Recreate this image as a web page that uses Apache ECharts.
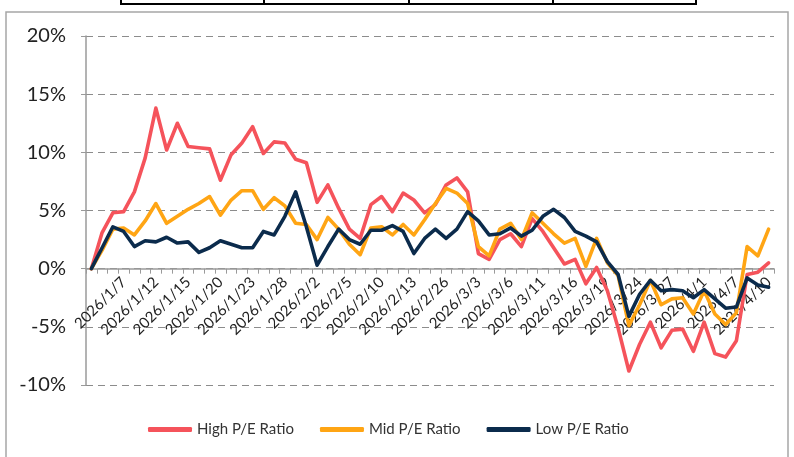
<!DOCTYPE html>
<html>
<head>
<meta charset="utf-8">
<script src="https://cdn.jsdelivr.net/npm/echarts@6/dist/echarts.min.js"></script>
<style>
  html, body { margin: 0; padding: 0; background: #fff; }
  #chart { width: 794px; height: 457px; }
</style>
</head>
<body>
<div id="chart"></div>
<script>
// trading days (index 0 is the base day, its label is hidden)
var dates = [
  '2025/12/31', '2026/1/5', '2026/1/6', '2026/1/7', '2026/1/8', '2026/1/9',
  '2026/1/12', '2026/1/13', '2026/1/14', '2026/1/15', '2026/1/16', '2026/1/19',
  '2026/1/20', '2026/1/21', '2026/1/22', '2026/1/23', '2026/1/26', '2026/1/27',
  '2026/1/28', '2026/1/29', '2026/1/30', '2026/2/2', '2026/2/3', '2026/2/4',
  '2026/2/5', '2026/2/6', '2026/2/9', '2026/2/10', '2026/2/11', '2026/2/12',
  '2026/2/13', '2026/2/24', '2026/2/25', '2026/2/26', '2026/2/27', '2026/3/2',
  '2026/3/3', '2026/3/4', '2026/3/5', '2026/3/6', '2026/3/9', '2026/3/10',
  '2026/3/11', '2026/3/12', '2026/3/13', '2026/3/16', '2026/3/17', '2026/3/18',
  '2026/3/19', '2026/3/20', '2026/3/23', '2026/3/24', '2026/3/25', '2026/3/26',
  '2026/3/27', '2026/3/30', '2026/3/31', '2026/4/1', '2026/4/2', '2026/4/3',
  '2026/4/7', '2026/4/8', '2026/4/9', '2026/4/10'
];

// cumulative return, %
var highPE = [
  0, 3.1, 4.8, 4.9, 6.6, 9.5, 13.8, 10.2, 12.5, 10.5, 10.4, 10.3,
  7.6, 9.8, 10.8, 12.2, 9.9, 10.9, 10.8, 9.4, 9.1, 5.7, 7.2, 5.2,
  3.4, 2.6, 5.5, 6.2, 4.9, 6.5, 5.9, 4.8, 5.5, 7.2, 7.8, 6.6,
  1.3, 0.8, 2.5, 3.0, 1.9, 4.3, 3.2, 1.8, 0.4, 0.8, -1.3, 0.1,
  -1.9, -5.1, -8.8, -6.5, -4.6, -6.8, -5.3, -5.2, -7.1, -4.6, -7.3, -7.6,
  -6.2, -0.5, -0.3, 0.5
];
var midPE = [
  0, 1.6, 3.4, 3.5, 2.9, 4.1, 5.6, 3.9, 4.5, 5.1, 5.6, 6.2,
  4.6, 5.9, 6.7, 6.7, 5.1, 6.1, 5.4, 3.9, 3.8, 2.5, 4.4, 3.4,
  2.1, 1.2, 3.5, 3.6, 2.9, 3.8, 2.9, 4.2, 5.6, 6.9, 6.5, 5.6,
  1.9, 1.1, 3.4, 3.9, 2.5, 4.8, 3.9, 3.0, 2.2, 2.6, 0.2, 2.6,
  0.5, -0.6, -4.9, -3.1, -1.0, -3.1, -2.6, -2.5, -3.9, -1.9, -3.9, -4.8,
  -3.8, 1.9, 1.1, 3.4
];
var lowPE = [
  0, 1.8, 3.6, 3.2, 1.9, 2.4, 2.3, 2.7, 2.2, 2.3, 1.4, 1.8,
  2.4, 2.1, 1.8, 1.8, 3.2, 2.9, 4.5, 6.6, 3.6, 0.3, 1.9, 3.4,
  2.5, 2.1, 3.3, 3.3, 3.7, 3.2, 1.3, 2.6, 3.4, 2.6, 3.4, 4.9,
  4.1, 2.9, 3.0, 3.5, 2.8, 3.3, 4.5, 5.1, 4.4, 3.2, 2.8, 2.3,
  0.6, -0.5, -4.1, -2.2, -1.0, -1.9, -1.8, -1.9, -2.5, -1.8, -2.6, -3.4,
  -3.3, -0.8, -1.4, -1.6
];

var seriesNames = ['High P/E Ratio', 'Mid P/E Ratio', 'Low P/E Ratio'];
var colors = ['#F5535B', '#FFA514', '#0B2B4C'];

var yMin = -10, yMax = 20;
var gridTop = 36, gridBottom = 72, chartH = 457;
// category axis sits on the 0% line (as in Excel), labels included
var plotH = chartH - gridTop - gridBottom;
var zeroOffset = -plotH * (0 - yMin) / (yMax - yMin);

var chart = echarts.init(document.getElementById('chart'));

function lineSeries(name, data, color) {
  return {
    name: name,
    type: 'line',
    data: data,
    symbol: 'none',
    smooth: false,
    lineStyle: { width: 3.6, color: color, join: 'round', cap: 'round' },
    itemStyle: { color: color }
  };
}

chart.setOption({
  animation: false,
  textStyle: { fontFamily: 'Lato, "Liberation Sans", sans-serif' },
  graphic: [
    // outer chart frame
    {
      type: 'rect', silent: true,
      shape: { x: 6, y: 12, width: 782, height: 452 },
      style: { fill: 'none', stroke: '#a6a6a6', lineWidth: 1.5 }
    },
    // bottom edge of the table above the chart
    {
      type: 'polyline', silent: true,
      shape: { points: [[121, 0], [121, 4], [696, 4], [696, 0]] },
      style: { fill: 'none', stroke: '#000', lineWidth: 2 }
    },
    { type: 'line', silent: true, shape: { x1: 264, y1: 0, x2: 264, y2: 4 }, style: { stroke: '#000', lineWidth: 2 } },
    { type: 'line', silent: true, shape: { x1: 409, y1: 0, x2: 409, y2: 4 }, style: { stroke: '#000', lineWidth: 2 } },
    { type: 'line', silent: true, shape: { x1: 553, y1: 0, x2: 553, y2: 4 }, style: { stroke: '#000', lineWidth: 2 } }
  ],
  grid: { left: 86, right: 20, top: gridTop, bottom: gridBottom, containLabel: false },
  legend: {
    data: seriesNames,
    bottom: 15,
    left: 143,
    icon: 'roundRect',
    itemWidth: 44,
    itemHeight: 5,
    itemGap: 26,
    textStyle: { fontSize: 15, color: '#333' }
  },
  xAxis: {
    type: 'category',
    data: dates,
    boundaryGap: true,
    offset: zeroOffset,
    axisLine: { onZero: false, lineStyle: { color: '#9a9a9a', width: 1.5 } },
    axisTick: { show: true, interval: 0, length: 5, lineStyle: { color: '#9a9a9a' } },
    axisLabel: {
      interval: function (i) { return i > 0 && i % 3 === 0; },
      rotate: 45,
      margin: 11,
      fontSize: 15,
      color: '#222'
    },
    splitLine: { show: false }
  },
  yAxis: {
    type: 'value',
    min: yMin,
    max: yMax,
    interval: 5,
    axisLine: { show: true, lineStyle: { color: '#9a9a9a', width: 1.5 } },
    axisTick: { show: true, length: 5, lineStyle: { color: '#9a9a9a' } },
    axisLabel: { formatter: '{value}%', fontSize: 20, color: '#222', margin: 20 },
    splitLine: { lineStyle: { color: '#8c8c8c', type: [7, 5], width: 1.2 } }
  },
  series: [
    lineSeries(seriesNames[0], highPE, colors[0]),
    lineSeries(seriesNames[1], midPE, colors[1]),
    lineSeries(seriesNames[2], lowPE, colors[2])
  ]
});

window.addEventListener('resize', function () {
  chart.resize();
});
</script>
</body>
</html>
